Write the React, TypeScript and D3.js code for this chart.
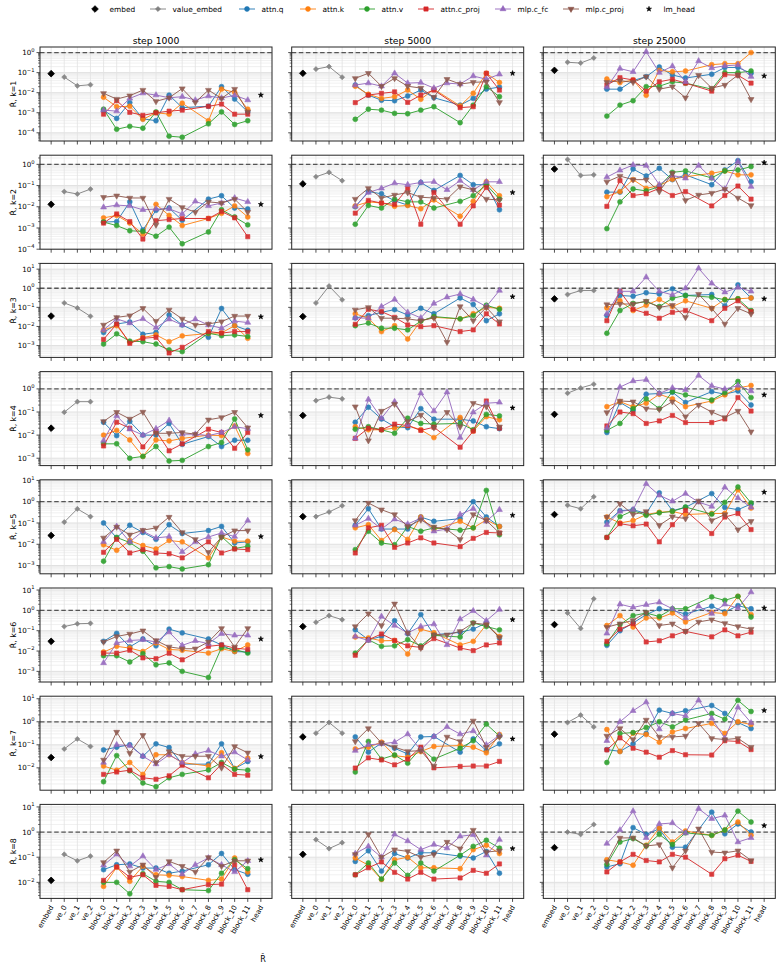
import React from "react";
import * as d3 from "d3";

const categories = [
  "embed", "ve_0", "ve_1", "ve_2",
  "block_0", "block_1", "block_2", "block_3", "block_4", "block_5",
  "block_6", "block_7", "block_8", "block_9", "block_10", "block_11",
  "head",
];
const steps = [1000, 5000, 25000];
const kValues = [1, 2, 3, 4, 5, 6, 7, 8];

// y-limits of each row (shared by the three steps)
const rowLimits: [number, number][] = [
  [3.9e-5, 1.9], [1.0e-4, 2.7], [2.4e-4, 20], [4.8e-4, 5.6],
  [4.1e-4, 10.7], [3.0e-4, 12.6], [1.07e-3, 12.9], [2.3e-3, 12.6],
];

// ---- step 1000 ----
const embed1000 = [8.9e-2, 1.3e-2, 3.5e-2, 2.0e-2, 2.6e-2, 3.0e-2, 2.8e-2, 1.2e-2];
const valueEmbed1000 = [
  [6.0e-2, 2.2e-2, 2.5e-2], [5.2e-2, 4.0e-2, 6.8e-2], [0.17, 9.3e-2, 3.4e-2], [9.8e-2, 0.28, 0.28],
  [0.11, 0.46, 0.2], [0.16, 0.22, 0.23], [6.6e-2, 0.18, 8.5e-2], [0.13, 7.2e-2, 0.11],
];
const lmHead1000 = [7.6e-3, 1.3e-2, 3.2e-2, 7.1e-2, 2.3e-2, 3.9e-2, 3.1e-2, 7.9e-2];
const attnQ1000 = [
  [1.3e-3, 5.2e-4, 3.2e-3, 5.0e-4, 4.0e-4, 7.6e-3, 1.8e-3, null, 2.1e-3, 2.0e-2, 4.8e-3, 1.1e-3],
  [1.9e-3, 2.0e-3, 1.7e-2, 8.1e-4, 6.8e-3, 8.7e-3, 2.3e-3, null, 2.3e-2, 3.3e-2, 8.7e-3, 7.8e-3],
  [4.8e-3, 1.35e-2, 1.7e-2, 3.9e-3, 4.8e-3, 4.0e-2, 1.2e-2, null, 2.7e-3, 8.7e-2, 1.1e-2, 6.3e-3],
  [3.6e-2, 9.5e-3, 3.9e-2, 1.0e-2, 1.0e-2, 3.2e-2, 4.0e-3, null, 8.7e-3, 3.2e-3, 6.0e-3, 6.0e-3],
  [0.1, 2.0e-2, 7.8e-2, 3.6e-2, 1.7e-2, 8.3e-2, 3.2e-2, null, 4.4e-2, 6.9e-2, 1.15e-2, 1.3e-2],
  [3.0e-2, 7.4e-2, 1.6e-2, 3.9e-2, 1.8e-2, 0.12, 7.8e-2, null, 3.9e-2, 2.0e-2, 9.5e-3, 8.9e-3],
  [6.0e-2, 7.9e-2, 0.1, 3.2e-2, 0.11, 7.6e-2, 1.45e-2, null, 1.45e-2, 0.11, 9.3e-3, 1.9e-2],
  [3.2e-2, 5.0e-2, 5.4e-2, 3.7e-2, 3.7e-2, 2.3e-2, 2.8e-2, null, 5.0e-2, 0.14, 3.2e-2, 2.1e-2],
];
const attnK1000 = [
  [5.9e-3, 2.0e-3, 2.1e-3, 4.7e-4, 1.0e-3, 8.5e-4, 3.0e-3, null, 4.0e-4, 1.5e-2, 1.05e-2, 1.5e-3],
  [3.0e-3, 3.9e-3, 1.7e-3, 5.2e-4, 1.3e-2, 3.9e-3, 1.3e-3, null, 2.8e-3, 4.9e-3, 1.1e-2, 3.3e-3],
  [6.6e-3, 1.1e-2, 1.5e-3, 2.6e-3, 3.6e-3, 1.6e-3, 3.2e-3, null, 4.3e-3, 4.6e-3, 1.1e-2, 2.4e-3],
  [1.0e-2, 1.6e-2, 6.2e-3, 1.2e-3, 6.2e-3, 5.6e-3, 7.2e-3, null, 1.0e-2, 9.5e-3, 2.5e-2, 1.6e-3],
  [9.5e-3, 5.2e-3, 1.5e-2, 8.7e-3, 6.0e-3, 1.5e-2, 1.3e-2, null, 2.3e-3, 2.2e-2, 1.4e-2, 1.4e-2],
  [8.9e-3, 1.7e-2, 1.4e-2, 9.5e-3, 2.5e-2, 1.2e-2, 1.1e-2, null, 7.9e-3, 1.3e-2, 9.5e-3, 2.0e-2],
  [1.2e-2, 7.9e-3, 1.7e-2, 5.2e-3, 3.7e-2, 3.7e-2, 1.7e-2, null, 1.2e-2, 4.5e-2, 9.3e-3, 2.6e-2],
  [6.9e-3, 4.0e-2, 1.1e-2, 4.4e-2, 2.0e-2, 1.9e-2, 1.7e-2, null, 1.2e-2, 1.35e-2, 9.3e-2, 2.6e-2],
];
const attnV1000 = [
  [1.5e-3, 1.5e-4, 2.1e-4, 1.7e-4, 1.1e-3, 6.8e-5, 6.0e-5, null, 2.8e-4, 1.1e-3, 2.6e-4, 4.0e-4],
  [1.9e-3, 1.3e-3, 7.4e-4, 6.9e-4, 4.1e-4, 1.1e-3, 1.8e-4, null, 6.5e-4, 7.2e-3, 3.3e-3, 1.4e-3],
  [1.2e-3, 4.1e-3, 1.7e-3, 1.6e-3, 1.2e-3, 5.9e-4, 4.8e-4, null, 4.4e-3, 3.3e-3, 3.6e-3, 3.0e-3],
  [4.2e-3, 4.2e-3, 1.0e-3, 1.2e-3, 3.2e-3, 7.6e-4, 8.1e-4, null, 3.2e-3, 4.8e-3, 5.0e-2, 2.3e-3],
  [1.6e-3, 2.1e-2, 1.2e-2, 4.7e-3, 7.8e-4, 8.9e-4, 6.9e-4, null, 1.1e-3, 2.3e-2, 6.3e-3, 8.1e-3],
  [5.9e-3, 5.9e-3, 2.9e-3, 7.4e-3, 2.1e-3, 2.6e-3, 1.0e-3, null, 5.0e-4, 1.5e-2, 1.2e-2, 7.9e-3],
  [2.5e-3, 3.4e-2, 7.4e-3, 2.2e-3, 1.5e-3, 3.7e-3, 5.2e-3, null, 8.1e-3, 1.7e-2, 8.7e-3, 7.9e-3],
  [1.0e-2, 1.0e-2, 3.5e-3, 2.2e-2, 1.1e-2, 1.0e-2, 5.1e-3, null, 4.7e-3, 2.3e-2, 7.9e-2, 3.5e-2],
];
const attnProj1000 = [
  [8.5e-4, 4.0e-3, 1.05e-3, 7.4e-4, 1.0e-3, 1.2e-3, 1.35e-3, null, 2.1e-3, 2.7e-3, 8.5e-4, 8.5e-4],
  [1.7e-3, 4.6e-3, 2.0e-3, 3.0e-4, 2.2e-3, 2.5e-3, 2.8e-3, null, 2.8e-3, 6.0e-3, 3.0e-3, 3.9e-4],
  [2.1e-3, 1.35e-2, 1.3e-3, 2.4e-3, 2.7e-3, 4.1e-4, 8.1e-4, null, 5.4e-3, 4.5e-3, 5.4e-3, 5.4e-3],
  [3.4e-3, 3.6e-2, 2.0e-2, 3.1e-3, 1.5e-2, 2.1e-3, 4.2e-3, null, 1.8e-2, 1.3e-2, 2.7e-3, 1.3e-2],
  [4.2e-3, 1.7e-2, 3.9e-3, 5.6e-3, 3.9e-3, 3.6e-3, 2.3e-3, null, 1.3e-2, 3.9e-3, 6.0e-3, 5.6e-3],
  [7.9e-3, 7.9e-3, 1.1e-2, 4.6e-3, 4.2e-3, 7.8e-3, 3.7e-3, null, 1.7e-2, 2.0e-2, 1.4e-2, 1.2e-2],
  [5.2e-3, 6.6e-3, 7.9e-3, 3.7e-3, 3.2e-3, 4.5e-3, 1.3e-2, null, 3.7e-3, 1.45e-2, 5.2e-3, 4.8e-3],
  [1.2e-2, 4.1e-2, 1.6e-2, 2.0e-2, 7.6e-3, 6.9e-3, 5.1e-3, null, 8.1e-3, 8.5e-3, 5.0e-2, 5.1e-3],
];
const mlpFc1000 = [
  [1.35e-3, 1.2e-3, 5.2e-3, 9.5e-3, 7.6e-3, 5.6e-3, 6.3e-3, 4.3e-3, 6.8e-3, 5.4e-3, 7.4e-3, 4.3e-3],
  [9.5e-3, 1.2e-2, 1.1e-2, 7.2e-3, 7.8e-3, 8.1e-3, 4.6e-3, 1.8e-2, 1.1e-2, 1.5e-2, 2.6e-2, 1.7e-2],
  [6.6e-3, 2.5e-2, 1.5e-2, 2.5e-2, 8.7e-3, 2.4e-2, 1.2e-2, 2.4e-2, 1.2e-2, 8.1e-3, 1.9e-2, 1.6e-2],
  [5.8e-3, 6.8e-2, 1.8e-2, 1.0e-2, 1.9e-2, 4.3e-2, 1.1e-2, 1.1e-2, 9.5e-3, 1.3e-2, 2.3e-2, 1.9e-2],
  [1.3e-2, 6.9e-2, 1.3e-2, 4.1e-2, 2.0e-2, 2.3e-2, 4.4e-3, 1.3e-2, 2.2e-2, 3.4e-2, 2.3e-2, 0.13],
  [2.6e-3, 2.5e-2, 3.3e-2, 3.6e-2, 2.8e-2, 8.5e-2, 1.9e-2, 3.2e-2, 2.3e-2, 7.1e-2, 5.9e-2, 5.9e-2],
  [1.7e-2, 0.1, 9.3e-2, 3.2e-2, 1.45e-2, 3.7e-2, 1.7e-2, 4.0e-2, 5.6e-2, 3.2e-2, 4.8e-2, 2.2e-2],
  [4.8e-2, 0.13, 4.4e-2, 0.11, 3.2e-2, 5.4e-2, 2.1e-2, 5.0e-2, 9.3e-2, 5.0e-2, 2.6e-2, 7.2e-2],
];
const mlpProj1000 = [
  [9.3e-3, 4.8e-3, 7.1e-3, 1.35e-2, 3.7e-3, 5.6e-3, 1.6e-2, 3.3e-3, 1.35e-2, 5.2e-3, 1.5e-2, 1.1e-3],
  [2.8e-2, 3.3e-2, 2.6e-2, 2.6e-2, 1.4e-3, 2.3e-2, 9.3e-3, 5.6e-3, 1.7e-2, 1.5e-2, 2.3e-2, 5.6e-3],
  [1.2e-2, 3.0e-2, 3.7e-2, 8.9e-2, 1.9e-2, 7.4e-2, 2.5e-2, 1.2e-2, 1.35e-2, 1.8e-2, 3.5e-2, 3.5e-2],
  [3.9e-2, 9.8e-2, 5.0e-2, 0.1, 1.2e-2, 1.2e-2, 1.3e-2, 1.1e-2, 4.6e-2, 5.8e-2, 9.8e-2, 2.1e-2],
  [2.0e-2, 6.5e-2, 2.8e-2, 4.6e-2, 5.9e-2, 0.19, 3.6e-2, 1.7e-2, 4.2e-3, 2.2e-2, 4.4e-2, 4.4e-2],
  [2.8e-2, 5.2e-2, 6.9e-2, 0.1, 3.3e-2, 1.6e-2, 1.3e-2, 1.3e-2, 2.8e-2, 0.13, 1.6e-2, 0.13],
  [2.2e-2, 0.36, 4.3e-2, 0.26, 1.7e-2, 5.1e-2, 3.2e-2, 3.2e-2, 3.2e-2, 1.0e-2, 8.5e-2, 4.5e-2],
  [6.2e-2, 0.18, 2.6e-2, 5.0e-2, 1.6e-2, 6.8e-2, 4.4e-2, 2.6e-2, 9.8e-2, 4.4e-2, 7.2e-2, 7.2e-2],
];

// ---- step 5000 ----
const embed5000 = [9.3e-2, 0.12, 3.3e-2, 7.1e-2, 0.2, 0.16, 0.22, 0.13];
const valueEmbed5000 = [
  [0.15, 0.2, 5.9e-2], [0.26, 0.42, 0.17], [0.17, 1.3, 0.25], [0.31, 0.44, 0.37],
  [0.2, 0.33, 0.65], [0.26, 0.55, 0.35], [0.32, 0.93, 0.32], [0.5, 0.22, 0.38],
];
const lmHead5000 = [9.3e-2, 4.7e-2, 0.36, 0.15, 0.23, 0.35, 0.18, 0.22];
const attnQ5000 = [
  [2.4e-2, 7.6e-3, 4.2e-3, 4.0e-3, 6.8e-3, 1.35e-2, 5.6e-3, null, 2.4e-3, 5.2e-3, 1.5e-2, 1.9e-2],
  [1.0e-2, 5.2e-2, 4.1e-2, 1.9e-2, 1.2e-2, 0.14, 5.9e-2, null, 0.3, 0.11, 0.11, 7.2e-3],
  [2.8e-2, 3.7e-2, 5.5e-2, 7.6e-2, 4.0e-2, 8.9e-2, 4.6e-2, null, 0.31, 0.14, 2.0e-2, 4.6e-2],
  [3.6e-2, 0.16, 5.0e-2, 2.3e-2, 2.1e-2, 0.14, 4.9e-2, null, 4.9e-2, 4.1e-2, 2.3e-2, 1.9e-2],
  [7.8e-2, 0.47, 5.2e-2, 5.2e-2, 5.2e-2, 0.19, 0.12, null, 0.16, 1.0, 0.19, 6.9e-2],
  [0.11, 3.6e-2, 5.2e-2, 0.31, 7.1e-2, 0.62, 6.3e-2, null, 8.3e-2, 0.12, 0.24, 4.4e-2],
  [0.22, 4.8e-2, 0.12, 7.1e-2, 4.0e-2, 0.22, 0.23, null, 4.8e-2, 0.18, 5.6e-2, 0.11],
  [6.8e-2, 0.18, 2.8e-2, 0.14, 9.3e-2, 0.15, 0.15, null, 0.11, 9.3e-2, 0.17, 2.3e-2],
];
const attnK5000 = [
  [2.1e-2, 8.3e-3, 5.2e-3, 6.3e-3, 1.35e-2, 4.7e-3, 1.5e-2, null, 2.2e-3, 9.3e-3, 9.3e-2, 3.2e-2],
  [1.1e-2, 1.7e-2, 1.5e-2, 1.05e-2, 1.15e-2, 8.1e-3, 2.1e-2, null, 3.6e-3, 1.8e-2, 0.15, 3.3e-2],
  [4.6e-2, 2.7e-2, 5.4e-3, 1.1e-2, 2.2e-3, 2.0e-2, 3.0e-2, null, 2.5e-2, 4.6e-2, 0.1, 8.9e-2],
  [2.3e-2, 1.7e-2, 1.7e-2, 2.0e-2, 2.6e-2, 1.7e-2, 7.8e-3, null, 5.8e-2, 1.5e-2, 6.3e-2, 4.6e-2],
  [5.9e-2, 8.3e-2, 1.5e-2, 4.9e-2, 1.7e-2, 0.19, 4.9e-2, null, 0.12, 5.9e-2, 0.14, 6.8e-2],
  [4.9e-2, 4.4e-2, 3.2e-2, 3.3e-2, 7.1e-3, 0.12, 7.9e-2, null, 2.0e-2, 3.0e-2, 0.2, 5.2e-2],
  [6.6e-2, 7.9e-2, 0.13, 3.4e-2, 2.9e-2, 5.1e-2, 8.5e-2, null, 9.3e-2, 7.9e-2, 4.5e-2, 0.28],
  [9.3e-2, 4.8e-2, 1.3e-2, 7.9e-2, 0.1, 3.8e-2, 3.8e-2, null, 3.5e-2, 0.2, 0.3, 0.14],
];
const attnV5000 = [
  [4.7e-4, 1.5e-3, 1.35e-3, 9.3e-4, 8.9e-4, 1.35e-3, 2.0e-3, null, 3.2e-4, 2.4e-3, 2.0e-2, 6.3e-3],
  [1.5e-3, 1.15e-2, 8.7e-3, 2.3e-2, 1.7e-2, 1.7e-2, 8.7e-3, null, 1.8e-2, 3.3e-2, 0.11, 2.3e-2],
  [1.1e-2, 1.5e-2, 8.1e-3, 8.1e-3, 6.6e-3, 1.9e-2, 3.3e-2, null, 2.5e-2, 3.7e-2, 0.13, 7.9e-2],
  [1.8e-2, 2.3e-2, 1.7e-2, 1.2e-2, 5.4e-2, 3.2e-2, 3.0e-2, null, 3.2e-2, 1.7e-2, 7.9e-2, 6.8e-2],
  [5.6e-3, 4.1e-2, 1.15e-2, 9.5e-3, 6.9e-2, 4.1e-2, 5.9e-2, null, 4.6e-2, 5.9e-2, 3.4, 2.8e-2],
  [7.9e-3, 3.6e-2, 1.7e-2, 1.8e-2, 3.6e-2, 1.8e-2, 5.9e-2, null, 4.9e-2, 0.24, 0.16, 0.11],
  [6.6e-3, 0.14, 2.4e-2, 3.6e-2, 1.6e-2, 7.1e-2, 2.4e-2, null, 7.1e-2, 0.15, 0.79, 0.24],
  [2.0e-2, 5.9e-2, 1.35e-2, 5.9e-2, 1.9e-2, 5.9e-2, 2.8e-2, null, 0.12, 0.27, 0.47, 0.23],
];
const attnProj5000 = [
  [3.2e-3, 7.6e-3, 9.3e-3, 1.1e-2, 3.3e-3, 7.6e-3, 1.35e-2, null, 1.8e-3, 2.0e-3, 9.3e-2, 1.35e-2],
  [5.0e-3, 2.0e-2, 1.5e-2, 1.3e-2, 7.4e-2, 1.5e-3, 4.7e-2, null, 1.5e-3, 1.1e-2, 8.1e-2, 1.2e-2],
  [1.3e-2, 7.9e-2, 6.0e-2, 3.0e-2, 1.2e-2, 9.8e-3, 1.1e-2, null, 5.4e-3, 6.6e-3, 4.6e-2, 1.35e-2],
  [7.2e-3, 2.0e-2, 1.7e-2, 3.0e-2, 2.6e-2, 1.6e-2, 2.2e-2, null, 3.0e-3, 1.5e-2, 0.3, 2.0e-2],
  [3.9e-3, 5.9e-2, 7.8e-2, 7.2e-3, 1.15e-2, 2.0e-2, 1.15e-2, null, 7.8e-3, 1.9e-2, 3.6e-2, 3.4e-2],
  [6.2e-3, 3.6e-2, 6.9e-2, 3.3e-2, 1.8e-2, 1.5e-2, 4.1e-2, null, 1.4e-2, 1.05e-2, 2.0e-2, 2.5e-2],
  [9.8e-3, 2.7e-2, 2.2e-2, 1.35e-2, 2.4e-2, 7.9e-2, 1.0e-2, null, 1.15e-2, 1.2e-2, 1.2e-2, 1.9e-2],
  [2.0e-2, 3.8e-2, 6.5e-2, 2.5e-2, 1.35e-2, 2.5e-2, 1.35e-2, null, 1.5e-2, 3.0e-2, 2.3e-2, 5.4e-2],
];
const mlpFc5000 = [
  [2.4e-2, 3.0e-2, 2.1e-2, 9.3e-2, 3.0e-2, 3.2e-2, 1.7e-2, 3.0e-2, 2.7e-2, 6.8e-2, 4.7e-2, 8.3e-2],
  [1.05e-2, 4.7e-2, 7.4e-2, 0.13, 0.11, 0.14, 0.15, 6.3e-2, 0.17, 6.3e-2, 0.15, 0.15],
  [2.8e-2, 2.7e-2, 0.11, 0.26, 5.5e-2, 2.8e-2, 0.16, 0.34, 0.5, 0.26, 0.11, 0.76],
  [7.2e-3, 0.35, 5.4e-2, 0.28, 2.8e-2, 0.65, 0.11, 0.72, 7.8e-3, 9.8e-2, 0.24, 0.26],
  [7.8e-2, 0.16, 5.2e-2, 0.15, 8.9e-2, 0.17, 4.1e-2, 5.2e-2, 0.25, 0.47, 0.12, 0.42],
  [5.2e-2, 3.3e-2, 0.5, 0.18, 7.8e-2, 0.16, 0.21, 2.0e-2, 0.37, 0.95, 0.31, 1.1],
  [5.6e-2, 0.1, 0.11, 0.13, 0.29, 6.0e-2, 0.23, 0.6, 0.29, 0.4, 0.1, 0.26],
  [0.14, 0.27, 0.1, 0.81, 0.44, 0.2, 0.32, 0.23, 0.68, 0.78, 0.12, 0.5],
];
const mlpProj5000 = [
  [5.2e-2, 9.3e-2, 2.1e-2, 5.2e-2, 2.1e-2, 1.7e-2, 5.9e-3, 4.7e-2, 2.7e-2, 3.3e-2, 3.5e-2, 3.3e-3],
  [2.3e-2, 7.4e-2, 2.6e-2, 3.6e-2, 4.7e-2, 2.8e-2, 2.6e-2, 2.3e-2, 8.9e-2, 6.3e-2, 2.3e-2, 2.1e-2],
  [7.4e-2, 0.1, 2.7e-2, 2.7e-2, 2.5e-2, 2.0e-2, 2.8e-2, 1.5e-3, 0.11, 2.0e-2, 0.1, 1.8e-2],
  [0.17, 5.8e-3, 0.11, 0.22, 3.9e-2, 7.4e-2, 2.1e-2, 9.8e-2, 2.3e-2, 0.24, 0.17, 2.3e-2],
  [0.13, 0.87, 0.42, 0.25, 6.9e-2, 0.14, 6.5e-2, 4.9e-2, 1.7e-2, 0.25, 0.13, 3.4e-2],
  [0.16, 0.69, 0.18, 2.1, 7.8e-2, 1.4e-2, 6.3e-2, 6.3e-2, 9.3e-2, 0.24, 0.2, 4.7e-2],
  [0.14, 0.51, 0.12, 7.9e-2, 5.2e-2, 5.6e-2, 1.2e-2, 0.22, 0.14, 1.1, 7.9e-2, 0.22],
  [0.13, 0.81, 0.1, 0.2, 0.17, 0.1, 0.13, 0.4, 0.22, 1.2, 0.16, 0.18],
];

// ---- step 25000 ----
const embed25000 = [0.13, 0.6, 0.28, 7.9e-2, 0.25, 0.2, 0.29, 0.24];
const valueEmbed25000 = [
  [0.33, 0.3, 0.54], [1.7, 0.3, 0.32], [0.47, 0.76, 0.76], [0.65, 1.1, 1.6],
  [0.68, 0.47, 1.7], [0.74, 0.13, 3.7], [0.93, 1.95, 0.6], [1.0, 0.81, 2.0],
];
const lmHead25000 = [6.8e-2, 1.2, 0.28, 0.55, 2.8, 1.3, 3.1, 1.8];
const attnQ25000 = [
  [1.5e-2, 1.5e-2, 4.0e-2, 6.3e-2, 0.19, 7.6e-2, 5.4e-2, null, 8.3e-2, 0.18, 0.18, 9.3e-2],
  [4.9e-2, 4.9e-2, 0.6, 0.28, 0.65, 0.19, 0.32, null, 0.11, 0.54, 1.5, 0.15],
  [3.7e-2, 0.42, 0.38, 0.58, 0.5, 0.93, 0.42, null, 0.47, 0.12, 1.5, 0.31],
  [1.3e-2, 0.26, 0.12, 0.59, 0.63, 0.72, 0.26, null, 0.76, 0.59, 0.81, 0.2],
  [0.11, 0.38, 0.42, 0.28, 2.6, 0.38, 0.54, null, 2.4, 0.54, 0.42, 0.78],
  [1.9e-2, 0.1, 0.24, 0.62, 1.2, 1.0, 0.66, null, 1.6, 0.83, 1.7, 1.2],
  [6.2e-2, 5.2e-2, 0.11, 0.31, 3.2, 2.3, 3.0, null, 5.1, 2.3, 0.93, 0.51],
  [4.1e-2, 5.5e-2, 1.5, 0.81, 1.35, 0.25, 0.25, null, 6.2, 0.85, 2.1, 1.0],
];
const attnK25000 = [
  [4.8e-2, 3.2e-2, 4.3e-2, 7.4e-3, 0.13, 0.11, 0.12, null, 0.25, 0.28, 0.28, 1.0],
  [3.0e-2, 5.2e-2, 0.19, 7.4e-2, 0.1, 0.2, 0.26, null, 0.38, 0.49, 0.32, 0.32],
  [9.3e-2, 0.22, 6.8e-2, 0.13, 0.26, 0.11, 0.22, null, 8.9e-2, 0.26, 0.28, 0.31],
  [0.17, 0.28, 0.17, 0.24, 0.59, 0.37, 0.17, null, 0.3, 0.55, 1.1, 1.4],
  [0.19, 0.1, 0.13, 0.25, 0.32, 0.35, 0.25, null, 0.28, 0.28, 3.6, 0.5],
  [0.18, 0.55, 0.15, 0.42, 0.42, 0.74, 0.27, null, 0.79, 0.69, 4.9, 0.62],
  [0.46, 5.1e-2, 0.32, 0.28, 0.13, 0.36, 0.51, null, 0.85, 0.31, 1.0, 0.76],
  [7.9e-2, 6.5e-2, 4.8e-2, 0.3, 1.45, 0.4, 1.1, null, 0.74, 1.2, 2.5, 0.74],
];
const attnV25000 = [
  [6.8e-4, 2.4e-3, 4.0e-3, 2.0e-2, 2.1e-2, 3.5e-2, 3.0e-2, null, 1.5e-2, 0.1, 0.1, 0.12],
  [9.3e-4, 1.7e-2, 6.9e-2, 5.6e-2, 8.9e-2, 0.42, 0.49, null, 0.23, 0.49, 0.54, 0.78],
  [4.4e-3, 6.8e-2, 0.16, 0.2, 0.11, 0.3, 0.42, null, 0.34, 0.25, 0.28, 6.8e-2],
  [1.6e-2, 3.2e-2, 0.14, 0.37, 0.14, 0.76, 0.55, null, 0.33, 0.69, 2.1, 0.42],
  [2.1e-2, 0.2, 0.38, 0.23, 0.3, 0.35, 0.56, null, 0.26, 0.93, 4.9, 0.87],
  [2.3e-2, 0.2, 0.55, 0.74, 0.5, 1.2, 1.2, null, 4.6, 3.1, 4.9, 0.47],
  [1.7e-2, 0.31, 0.34, 0.56, 1.0, 0.6, 1.2, null, 2.3, 1.3, 8.5, 2.8],
  [5.2e-2, 0.4, 0.55, 0.28, 0.81, 0.32, 0.93, null, 0.74, 1.2, 6.8, 2.5],
];
const attnProj25000 = [
  [2.4e-2, 5.6e-2, 4.3e-2, 1.2e-2, 3.5e-2, 4.7e-2, 3.0e-2, null, 1.2e-2, 7.9e-2, 7.4e-2, 3.0e-2],
  [1.05e-2, 0.17, 3.4e-2, 4.1e-2, 7.4e-2, 3.4e-2, 5.2e-2, null, 1.1e-2, 3.4e-2, 9.5e-2, 2.3e-2],
  [2.0e-2, 0.69, 7.9e-2, 4.9e-2, 2.7e-2, 5.5e-2, 6.8e-2, null, 2.0e-2, 8.9e-2, 0.22, 6.0e-2],
  [2.5e-2, 0.1, 8.5e-2, 3.2e-2, 4.1e-2, 7.1e-2, 3.5e-2, null, 3.5e-2, 5.0e-2, 0.42, 0.11],
  [2.1e-2, 9.3e-2, 7.4e-2, 8.9e-2, 1.3e-2, 8.3e-2, 0.39, null, 3.2e-2, 0.19, 0.28, 4.9e-2],
  [3.0e-2, 0.12, 0.22, 2.8e-2, 3.2e-2, 5.6e-2, 9.3e-2, null, 5.0e-2, 0.11, 5.6e-2, 8.5e-2],
  [6.0e-2, 0.2, 7.1e-2, 4.8e-2, 2.9e-2, 5.6e-2, 3.7e-2, null, 3.6e-2, 0.15, 0.14, 6.2e-2],
  [2.6e-2, 6.5e-2, 0.13, 7.4e-2, 6.5e-2, 0.13, 0.1, null, 2.1e-2, 8.7e-2, 0.12, 6.8e-2],
];
const mlpFc25000 = [
  [1.9e-2, 0.16, 0.11, 1.1, 0.1, 0.21, 3.5e-2, 0.38, 0.17, 0.22, 0.24, 6.3e-2],
  [0.25, 0.52, 0.93, 0.87, 0.11, 0.3, 0.22, 0.87, 0.22, 6.9e-2, 1.35, 8.9e-2],
  [4.6e-2, 0.69, 0.69, 3.8, 0.69, 0.45, 1.0, 11, 1.8, 0.62, 1.1, 0.69],
  [2.0e-2, 1.2, 2.2, 2.5, 0.63, 1.1, 0.91, 3.8, 1.35, 0.98, 1.4, 0.81],
  [8.3e-2, 0.35, 0.42, 6.9, 2.0, 1.05, 2.4, 0.95, 0.6, 4.7, 1.5, 0.54],
  [7.4e-2, 2.0, 1.4, 1.9, 2.5, 1.2, 0.42, 1.6, 0.69, 2.0, 1.3, 7.9],
  [0.15, 1.0, 3.0, 7.1, 0.48, 2.3, 1.8, 8.5, 1.4, 0.19, 4.2, 0.91],
  [0.35, 1.2, 6.8, 0.59, 2.1, 2.3, 0.91, 8.5, 3.4, 4.6, 0.4, 0.59],
];
const mlpProj25000 = [
  [3.3e-2, 4.0e-2, 3.3e-2, 6.3e-2, 1.5e-2, 2.0e-2, 5.6e-3, 7.4e-2, 1.7e-2, 2.4e-2, 7.6e-2, 4.7e-3],
  [0.15, 0.28, 0.19, 0.19, 5.2e-2, 0.38, 2.0e-2, 3.6e-2, 4.4e-2, 6.8e-2, 2.6e-2, 1.15e-2],
  [0.14, 0.15, 0.15, 0.21, 0.1, 0.13, 3.0e-2, 0.49, 8.9e-2, 1.35e-2, 8.9e-2, 4.6e-2],
  [9.5e-2, 0.3, 0.28, 0.14, 0.13, 0.28, 6.3e-2, 0.2, 0.1, 5.8e-2, 0.11, 1.4e-2],
  [0.19, 0.81, 0.25, 0.35, 7.8e-2, 0.2, 0.16, 1.1, 0.13, 0.25, 4.9e-2, 0.12],
  [0.15, 0.22, 0.32, 0.79, 0.18, 0.22, 9.3e-2, 0.27, 0.35, 0.23, 0.16, 0.12],
  [0.24, 0.51, 0.17, 1.2, 0.22, 0.22, 0.24, 0.85, 0.19, 0.17, 0.19, 7.9e-2],
  [6.5e-2, 0.58, 0.59, 0.28, 0.32, 3.8e-2, 0.18, 1.35, 0.16, 0.15, 0.18, 7.4e-2],
];

// lookup tables, indexed by step column
const embedByStep = [embed1000, embed5000, embed25000];
const valueEmbedByStep = [valueEmbed1000, valueEmbed5000, valueEmbed25000];
const lmHeadByStep = [lmHead1000, lmHead5000, lmHead25000];

type Marker = "circle" | "square" | "triUp" | "triDown" | "diamond" | "star";

const blockSeries: { name: string; color: string; marker: Marker; data: (number | null)[][][] }[] = [
  { name: "attn.q", color: "#1f77b4", marker: "circle", data: [attnQ1000, attnQ5000, attnQ25000] },
  { name: "attn.k", color: "#ff7f0e", marker: "circle", data: [attnK1000, attnK5000, attnK25000] },
  { name: "attn.v", color: "#2ca02c", marker: "circle", data: [attnV1000, attnV5000, attnV25000] },
  { name: "attn.c_proj", color: "#d62728", marker: "square", data: [attnProj1000, attnProj5000, attnProj25000] },
  { name: "mlp.c_fc", color: "#9467bd", marker: "triUp", data: [mlpFc1000, mlpFc5000, mlpFc25000] },
  { name: "mlp.c_proj", color: "#8c564b", marker: "triDown", data: [mlpProj1000, mlpProj5000, mlpProj25000] },
];

const FONT = "DejaVu Sans, sans-serif";
const WIDTH = 782;
const HEIGHT = 964;
const colLeft = [40, 291.7, 543.3];
const panelW = 232;
const panelH = 94;
const firstTop = 47;
const rowPitch = 108.2;
const BLOCK0 = 4;

const symbolPaths: Record<Marker, string> = {
  circle: d3.symbol(d3.symbolCircle, 19)() as string,
  square: d3.symbol(d3.symbolSquare, 18)() as string,
  triUp: d3.symbol(d3.symbolTriangle, 15)() as string,
  triDown: d3.symbol(d3.symbolTriangle, 15)() as string,
  diamond: d3.symbol(d3.symbolSquare, 13)() as string,
  star: d3.symbol(d3.symbolStar, 8)() as string,
};

function MarkerShape({ kind, x, y, color, scale = 1 }: { kind: Marker; x: number; y: number; color: string; scale?: number }) {
  const rot = kind === "triDown" ? 180 : kind === "diamond" ? 45 : 0;
  return (
    <path
      d={symbolPaths[kind]}
      transform={`translate(${x},${y}) rotate(${rot}) scale(${scale})`}
      fill={color}
      stroke={color}
      strokeWidth={0.6}
    />
  );
}

function Pow10({ exp }: { exp: number }) {
  const s = exp < 0 ? `\u2212${-exp}` : `${exp}`;
  return (
    <>
      10<tspan dy={-3.4} fontSize={5.2}>{s}</tspan>
    </>
  );
}

function Panel({ row, col }: { row: number; col: number }) {
  const left = colLeft[col];
  const top = firstTop + row * rowPitch;
  const x = d3.scaleLinear().domain([-0.85, 16.85]).range([left, left + panelW]);
  const y = d3.scaleLog().domain(rowLimits[row]).range([top + panelH, top]);
  const ticks = y.ticks();
  const isMajor = (t: number) => Math.abs(Math.log10(t) - Math.round(Math.log10(t))) < 1e-9;

  const line = d3
    .line<[number, number]>()
    .x((d) => x(d[0]))
    .y((d) => y(d[1]));

  const vePts: [number, number][] = valueEmbedByStep[col][row].map((v, i) => [i + 1, v]);

  return (
    <g>
      <rect x={left} y={top} width={panelW} height={panelH} fill="#fff" />
      {/* grid */}
      {ticks.map((t, i) => (
        <line
          key={`h${i}`}
          x1={left}
          x2={left + panelW}
          y1={y(t)}
          y2={y(t)}
          stroke={isMajor(t) ? "#d8d8d8" : "#e9e9e9"}
          strokeWidth={isMajor(t) ? 0.8 : 0.7}
        />
      ))}
      {categories.map((_, i) => (
        <line key={`v${i}`} x1={x(i)} x2={x(i)} y1={top} y2={top + panelH} stroke="#e2e2e2" strokeWidth={0.8} />
      ))}
      {/* reference level */}
      <line x1={left} x2={left + panelW} y1={y(1)} y2={y(1)} stroke="#555" strokeWidth={1.3} strokeDasharray="4.5,2.6" />

      {/* embeddings */}
      <MarkerShape kind="diamond" x={x(0)} y={y(embedByStep[col][row])} color="#000" scale={1.3} />
      <g opacity={0.9}>
        <path d={line(vePts) ?? ""} fill="none" stroke="#7f7f7f" strokeWidth={1} />
        {vePts.map((p, i) => (
          <MarkerShape key={i} kind="diamond" x={x(p[0])} y={y(p[1])} color="#7f7f7f" />
        ))}
      </g>

      {/* per-block series */}
      {blockSeries.map((s) => {
        const pts = s.data[col][row]
          .map((v, i) => [i + BLOCK0, v] as [number, number | null])
          .filter((p): p is [number, number] => p[1] !== null);
        return (
          <g key={s.name} opacity={0.9}>
            <path d={line(pts) ?? ""} fill="none" stroke={s.color} strokeWidth={1} />
            {pts.map((p, i) => (
              <MarkerShape key={i} kind={s.marker} x={x(p[0])} y={y(p[1])} color={s.color} />
            ))}
          </g>
        );
      })}

      <MarkerShape kind="star" x={x(16)} y={y(lmHeadByStep[col][row])} color="#000" />

      {/* frame */}
      <rect x={left} y={top} width={panelW} height={panelH} fill="none" stroke="#262626" strokeWidth={1} />

      {/* y ticks */}
      {ticks.map((t, i) => (
        <line
          key={`yt${i}`}
          x1={left - (isMajor(t) ? 3.5 : 2)}
          x2={left}
          y1={y(t)}
          y2={y(t)}
          stroke="#262626"
          strokeWidth={isMajor(t) ? 0.8 : 0.6}
        />
      ))}
      {col === 0 &&
        ticks.filter(isMajor).map((t, i) => (
          <text key={`yl${i}`} x={left - 5.5} y={y(t) + 2.6} fontSize={7.1} textAnchor="end" fill="#000">
            <Pow10 exp={Math.round(Math.log10(t))} />
          </text>
        ))}
      {col === 0 && (
        <text
          transform={`translate(16,${top + panelH / 2}) rotate(-90)`}
          fontSize={7.8}
          textAnchor="middle"
          fill="#000"
        >
          {`R\u0302, k=${kValues[row]}`}
        </text>
      )}

      {/* x ticks */}
      {categories.map((_, i) => (
        <line key={`xt${i}`} x1={x(i)} x2={x(i)} y1={top + panelH} y2={top + panelH + 3.5} stroke="#262626" strokeWidth={0.8} />
      ))}
      {row === kValues.length - 1 &&
        categories.map((c, i) => (
          <text
            key={`xl${i}`}
            transform={`translate(${x(i) - 1.6},${top + panelH + 6.2}) rotate(-60)`}
            fontSize={7.1}
            textAnchor="end"
            dy="0.7em"
            fill="#000"
          >
            {c}
          </text>
        ))}

      {row === 0 && (
        <text x={left + panelW / 2} y={top - 3} fontSize={9.3} textAnchor="middle" fill="#000">
          {`step ${steps[col]}`}
        </text>
      )}
    </g>
  );
}

const legendEntries: { label: string; color: string; marker: Marker; line: boolean; scale?: number }[] = [
  { label: "embed", color: "#000", marker: "diamond", line: false, scale: 1.3 },
  { label: "value_embed", color: "#7f7f7f", marker: "diamond", line: true },
  ...blockSeries.map((s) => ({ label: s.name, color: s.color, marker: s.marker, line: true })),
  { label: "lm_head", color: "#000", marker: "star", line: false },
];
const legendHandleX = [87, 150, 239, 300, 359, 418, 495, 563, 641];

function Legend() {
  const cy = 9;
  return (
    <g>
      {legendEntries.map((e, i) => {
        const hx = legendHandleX[i];
        return (
          <g key={e.label}>
            {e.line && <line x1={hx} x2={hx + 16} y1={cy} y2={cy} stroke={e.color} strokeWidth={1} opacity={0.9} />}
            <MarkerShape kind={e.marker} x={hx + 8} y={cy} color={e.color} scale={e.scale ?? 1} />
            <text x={hx + 22.5} y={cy + 2.7} fontSize={7.4} fill="#000">
              {e.label}
            </text>
          </g>
        );
      })}
    </g>
  );
}

export default function App() {
  return (
    <div style={{ position: "absolute", left: 0, top: 0 }}>
      <svg width={WIDTH} height={HEIGHT} viewBox={`0 0 ${WIDTH} ${HEIGHT}`} style={{ display: "block", background: "#fff", fontFamily: FONT }}>
        <rect width={WIDTH} height={HEIGHT} fill="#fff" />
        <Legend />
        {kValues.map((_, r) => steps.map((_, c) => <Panel key={`${r}-${c}`} row={r} col={c} />))}
        <text x={263} y={961.5} fontSize={8} textAnchor="middle" fill="#000">
          {"R\u0302"}
        </text>
      </svg>
    </div>
  );
}
